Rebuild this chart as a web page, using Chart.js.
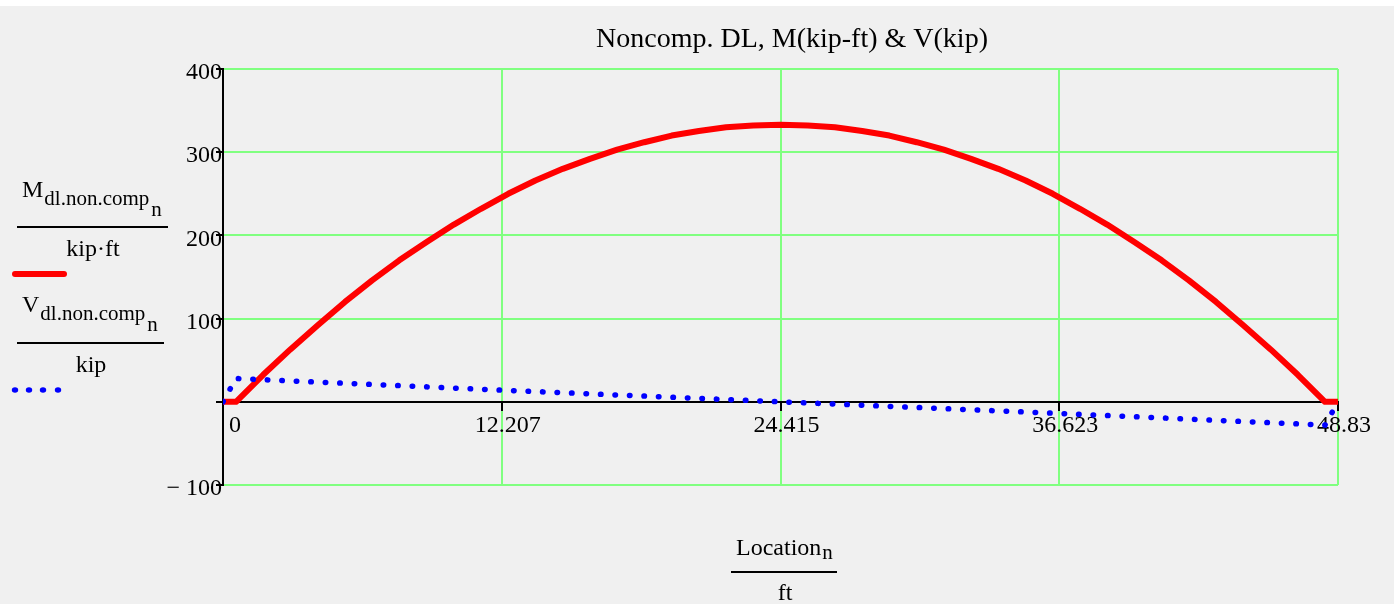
<!DOCTYPE html>
<html lang="en">
<head>
    <meta charset="UTF-8">
    <title>Noncomp. DL, M(kip-ft) & V(kip)</title>
    <script src="https://cdn.jsdelivr.net/npm/chart.js"></script>
    <style>
        body { margin: 0; background: #fff; }
        #wrap { width: 1396px; height: 606px; position: relative; }
    </style>
</head>
<body>
<div id="wrap"><canvas id="dlChart"></canvas></div>
<script>
    // moment curve (kip-ft)
    const momentLocation = [0, 0.57, 1.76, 2.95, 4.15, 5.34, 6.53, 7.72, 8.92, 10.11, 11.30, 12.49,
        13.68, 14.88, 16.07, 17.26, 18.45, 19.65, 20.84, 22.03, 23.22, 24.415,
        25.61, 26.80, 27.99, 29.18, 30.38, 31.57, 32.76, 33.95, 35.15, 36.34,
        37.53, 38.72, 39.91, 41.11, 42.30, 43.49, 44.68, 45.88, 47.07, 48.26, 48.83];
    const momentValues = [0, 0, 32.5, 63, 92, 120, 146, 170, 192, 213, 232, 250,
        266, 280, 292, 303, 312, 320, 325.5, 330, 332, 333,
        332, 330, 325.5, 320, 312, 303, 292, 280, 266, 250,
        232, 213, 192, 170, 146, 120, 92, 63, 32.5, 0, 0];

    // shear (kip)
    const shearLocation = [0, 0.57, 12.207, 24.415, 36.623, 48.26, 48.83];
    const shearValues = [0, 28, 14, 0, -14, -28, 0];

    const xTicks = [0, 12.207, 24.415, 36.623, 48.83];
    const xTickLabels = ["0", "12.207", "24.415", "36.623", "48.83"];
    const yTicks = [-100, 0, 100, 200, 300, 400];

    const serif = "'Liberation Serif', 'Times New Roman', serif";
    const gridGreen = "#80ff80";

    function pts(xs, ys) {
        return xs.map((x, i) => ({ x: x, y: ys[i] }));
    }

    const background = {
        id: "background",
        beforeDraw(chart) {
            const ctx = chart.ctx;
            ctx.save();
            ctx.fillStyle = "#ffffff";
            ctx.fillRect(0, 0, chart.width, chart.height);
            ctx.fillStyle = "#f0f0f0";
            ctx.fillRect(0, 6, 1394, 598);
            ctx.restore();
        }
    };

    // title, legend fractions and x-axis label, Mathcad style
    const annotations = {
        id: "annotations",
        afterDraw(chart) {
            const ctx = chart.ctx;
            ctx.save();
            ctx.fillStyle = "#000";
            ctx.strokeStyle = "#000";
            ctx.textBaseline = "alphabetic";

            ctx.font = "28px " + serif;
            ctx.textAlign = "center";
            ctx.fillText("Noncomp. DL, M(kip-ft) & V(kip)", 792, 47);

            function subLabel(main, x, base) {
                ctx.textAlign = "left";
                ctx.font = "24px " + serif;
                ctx.fillText(main, x, base);
                let w = ctx.measureText(main).width;
                ctx.font = "21px " + serif;
                ctx.fillText("dl.non.comp", x + w + 1, base + 8);
                let w2 = ctx.measureText("dl.non.comp").width;
                ctx.fillText("n", x + w + 3 + w2, base + 19);
            }

            function rule(x1, x2, y) {
                ctx.lineWidth = 2;
                ctx.beginPath();
                ctx.moveTo(x1, y);
                ctx.lineTo(x2, y);
                ctx.stroke();
            }

            subLabel("M", 22, 197);
            rule(17, 168, 227);
            ctx.font = "24px " + serif;
            ctx.textAlign = "center";
            ctx.fillText("kip\u00b7ft", 93, 256);

            ctx.strokeStyle = "#ff0000";
            ctx.lineWidth = 6;
            ctx.lineCap = "round";
            ctx.beginPath();
            ctx.moveTo(15, 274);
            ctx.lineTo(64, 274);
            ctx.stroke();
            ctx.lineCap = "butt";
            ctx.strokeStyle = "#000";

            subLabel("V", 22, 312);
            rule(17, 164, 343);
            ctx.font = "24px " + serif;
            ctx.textAlign = "center";
            ctx.fillText("kip", 91, 372);

            ctx.fillStyle = "#0000ff";
            [15, 29, 43, 58].forEach(x => {
                ctx.beginPath();
                ctx.ellipse(x, 390, 3.2, 2.7, 0, 0, Math.PI * 2);
                ctx.fill();
            });
            ctx.fillStyle = "#000";

            ctx.font = "24px " + serif;
            ctx.textAlign = "left";
            ctx.fillText("Location", 736, 555);
            let lw = ctx.measureText("Location").width;
            ctx.font = "21px " + serif;
            ctx.fillText("n", 736 + lw + 1, 559);
            rule(731, 837, 572);
            ctx.font = "24px " + serif;
            ctx.textAlign = "center";
            ctx.fillText("ft", 785, 600);

            ctx.restore();
        }
    };

    Chart.defaults.font.family = serif;
    Chart.defaults.font.size = 24;
    Chart.defaults.color = "#000";

    new Chart(document.getElementById("dlChart"), {
        type: "line",
        data: {
            datasets: [{
                label: "M",
                data: pts(momentLocation, momentValues),
                borderColor: "#ff0000",
                borderWidth: 6,
                borderJoinStyle: "round",
                pointRadius: 0,
                fill: false,
                order: 2
            }, {
                label: "V",
                data: pts(shearLocation, shearValues),
                borderColor: "#0000ff",
                borderWidth: 5.5,
                borderDash: [0.5, 14],
                borderCapStyle: "round",
                pointRadius: 0,
                fill: false,
                order: 1
            }]
        },
        options: {
            responsive: true,
            maintainAspectRatio: false,
            animation: false,
            layout: { padding: { top: 69, right: 58, bottom: 121, left: 0 } },
            plugins: {
                legend: { display: false },
                tooltip: { enabled: false },
                title: { display: false }
            },
            scales: {
                x: {
                    type: "linear",
                    position: { y: 0 },
                    min: 0,
                    max: 48.83,
                    afterBuildTicks: scale => { scale.ticks = xTicks.map(v => ({ value: v })); },
                    ticks: {
                        autoSkip: false,
                        maxRotation: 0,
                        labelOffset: 6,
                        padding: 2,
                        callback: (v, i) => (i === 0 ? "  " : "") + xTickLabels[i]
                    },
                    grid: { color: gridGreen, lineWidth: 2, tickColor: "#000", tickLength: 8 },
                    border: { display: true, color: "#000", width: 2 }
                },
                y: {
                    min: -100,
                    max: 400,
                    afterBuildTicks: scale => { scale.ticks = yTicks.map(v => ({ value: v })); },
                    afterFit: scale => { scale.width = 223; },
                    ticks: {
                        padding: -6,
                        labelOffset: 4,
                        callback: v => v === 0 ? "" : (v < 0 ? "\u2212 " + Math.abs(v) : String(v))
                    },
                    grid: { color: gridGreen, lineWidth: 2, tickColor: "#000", tickLength: 7 },
                    border: { display: true, color: "#000", width: 2 }
                }
            }
        },
        plugins: [background, annotations]
    });
</script>
</body>
</html>
